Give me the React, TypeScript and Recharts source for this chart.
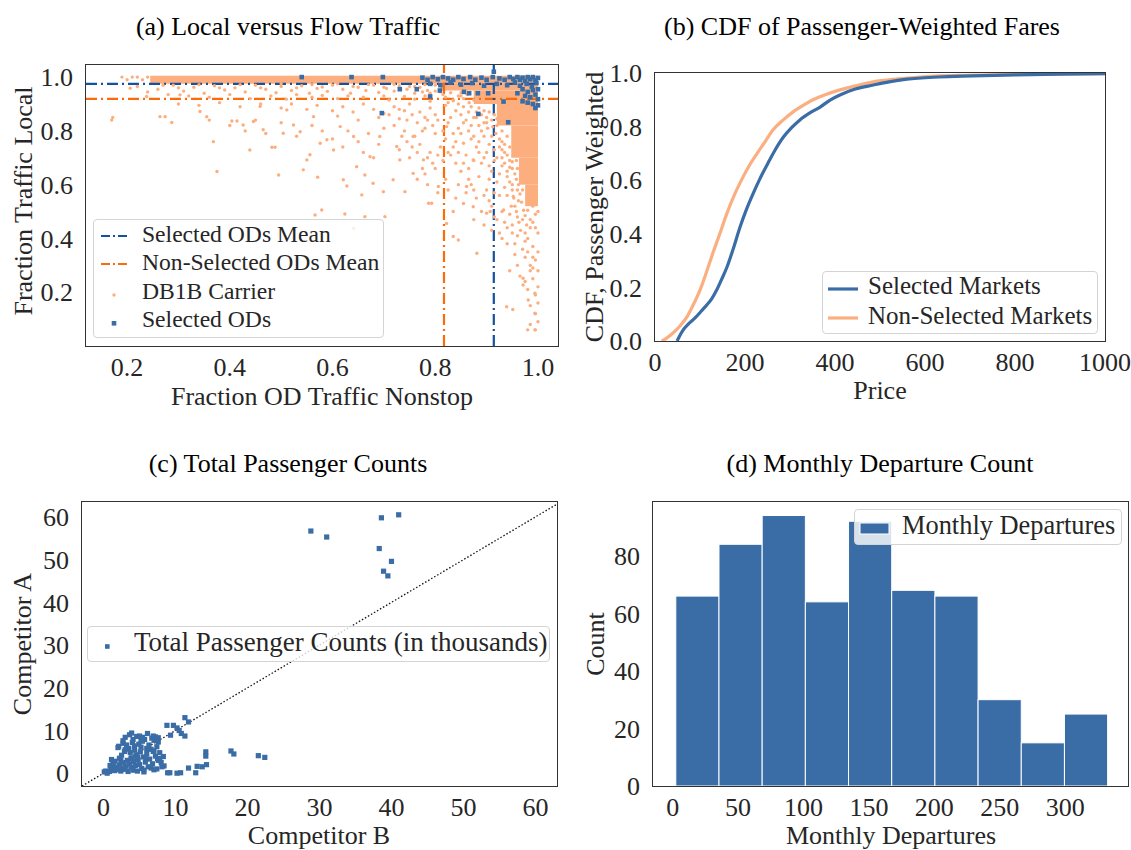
import React from 'react';
import {
  ScatterChart, Scatter, LineChart, Line, BarChart, Bar,
  XAxis, YAxis, ReferenceLine, ReferenceArea,
} from 'recharts';

const FONT = '"Liberation Serif", "Times New Roman", Times, serif';
const INK = '#262626';
const BLUE = '#3a6da6';
const BLUE_DARK = '#12529e';
const ORANGE_LIGHT = '#fdae7e';
const ORANGE_DARK = '#fd6a08';

// ---- (a) local versus flow traffic: [fraction nonstop, fraction local]
const carrierPoints: [number, number][] = [
  [0.19, 1.0], [0.2, 0.99], [0.21, 1.0], [0.22, 1.0], [0.23, 0.99], [0.24, 1.0],
  [0.17, 0.84], [0.172, 0.85], [0.264, 0.853], [0.274, 0.853], [0.287, 0.831], [0.342, 0.872],
  [0.355, 0.853], [0.368, 0.76], [0.375, 0.649], [0.404, 0.837], [0.414, 0.837], [0.426, 0.822],
  [0.439, 0.729], [0.446, 0.835], [0.482, 0.739], [0.488, 0.739], [0.495, 0.636], [0.465, 0.804],
  [0.504, 0.791], [0.524, 0.822], [0.537, 0.797], [0.543, 0.655], [0.55, 0.692], [0.556, 0.711],
  [0.571, 0.628], [0.576, 0.754], [0.589, 0.767], [0.602, 0.729], [0.621, 0.618], [0.628, 0.595],
  [0.647, 0.667], [0.657, 0.562], [0.663, 0.636], [0.673, 0.704], [0.679, 0.605], [0.699, 0.574],
  [0.702, 0.481], [0.579, 0.506], [0.566, 0.487], [0.624, 0.491], [0.663, 0.481], [0.641, 0.438],
  [0.718, 0.618], [0.731, 0.692], [0.741, 0.574], [0.757, 0.642], [0.777, 0.692], [0.787, 0.531],
  [0.793, 0.531], [0.806, 0.593], [0.822, 0.456], [0.835, 0.407], [0.845, 0.394], [0.861, 0.593],
  [0.874, 0.518], [0.881, 0.345], [0.9, 0.494], [0.907, 0.5], [0.933, 0.506], [0.939, 0.146],
  [0.951, 0.136], [0.971, 0.252], [0.971, 0.227], [0.981, 0.171], [0.994, 0.196], [0.994, 0.122],
  [0.994, 0.06], [0.978, 0.45], [0.952, 0.556], [0.874, 0.692], [0.855, 0.754], [0.822, 0.816],
  [0.757, 0.779], [0.725, 0.742], [0.692, 0.779], [0.641, 0.779], [0.615, 0.816], [0.563, 0.853],
  [0.511, 0.878], [0.459, 0.891], [0.303, 0.934], [0.238, 0.928], [0.206, 0.959],
  [0.22, 0.965], [0.26, 0.955], [0.29, 0.97], [0.31, 0.948], [0.33, 0.962], [0.35, 0.94],
  [0.37, 0.968], [0.39, 0.952], [0.41, 0.96], [0.43, 0.945], [0.45, 0.97], [0.47, 0.955],
  [0.49, 0.942], [0.5, 0.965], [0.52, 0.95], [0.54, 0.968], [0.555, 0.94], [0.57, 0.958],
  [0.59, 0.947], [0.6, 0.97], [0.62, 0.955], [0.635, 0.94], [0.65, 0.962], [0.665, 0.95],
  [0.68, 0.97], [0.69, 0.943], [0.705, 0.958], [0.72, 0.948], [0.73, 0.968], [0.745, 0.955],
  [0.76, 0.94], [0.77, 0.962], [0.785, 0.95], [0.8, 0.97], [0.81, 0.945], [0.825, 0.958],
  [0.84, 0.965], [0.85, 0.942],
  [0.27, 0.97], [0.3, 0.96], [0.34, 0.972], [0.38, 0.96], [0.42, 0.972], [0.46, 0.96],
  [0.5, 0.975], [0.53, 0.96], [0.56, 0.972], [0.58, 0.963], [0.61, 0.975], [0.64, 0.965],
  [0.67, 0.972], [0.7, 0.962], [0.72, 0.973], [0.75, 0.965], [0.78, 0.972],
  [0.24, 0.945], [0.28, 0.935], [0.32, 0.93], [0.36, 0.925], [0.4, 0.935], [0.44, 0.92],
  [0.48, 0.93], [0.51, 0.918], [0.53, 0.935], [0.56, 0.925], [0.58, 0.932], [0.61, 0.92],
  [0.63, 0.93], [0.66, 0.925], [0.7, 0.93], [0.71, 0.915], [0.74, 0.928], [0.76, 0.918],
  [0.78, 0.93], [0.79, 0.91], [0.82, 0.925], [0.835, 0.912], [0.85, 0.93],
  [0.3, 0.9], [0.34, 0.895], [0.38, 0.905], [0.42, 0.89], [0.46, 0.9], [0.5, 0.885],
  [0.52, 0.9], [0.55, 0.88], [0.57, 0.895], [0.6, 0.875], [0.62, 0.89], [0.64, 0.87],
  [0.66, 0.9], [0.68, 0.88], [0.7, 0.865], [0.72, 0.89], [0.74, 0.875], [0.75, 0.9],
  [0.77, 0.87], [0.79, 0.885], [0.8, 0.86], [0.82, 0.895], [0.84, 0.875], [0.85, 0.86],
  [0.83, 0.85], [0.78, 0.85], [0.73, 0.845], [0.69, 0.85], [0.65, 0.84], [0.61, 0.855],
  [0.86, 0.84], [0.87, 0.82], [0.88, 0.85], [0.89, 0.8], [0.9, 0.83], [0.91, 0.78],
  [0.92, 0.82], [0.93, 0.76], [0.87, 0.77], [0.88, 0.74], [0.9, 0.72], [0.92, 0.7],
  [0.93, 0.73], [0.85, 0.79], [0.84, 0.76], [0.86, 0.71], [0.89, 0.68], [0.91, 0.65],
  [0.93, 0.67], [0.92, 0.61], [0.94, 0.63], [0.95, 0.6], [0.94, 0.56], [0.955, 0.52],
  [0.96, 0.48], [0.95, 0.45], [0.96, 0.41], [0.955, 0.38], [0.95, 0.66], [0.945, 0.69],
  [0.955, 0.72], [0.96, 0.66], [0.96, 0.58], [0.962, 0.54],
  [0.99, 0.52], [1.0, 0.5], [0.985, 0.47], [0.995, 0.44], [1.0, 0.42], [0.98, 0.4],
  [0.99, 0.37], [1.0, 0.35], [0.995, 0.32], [0.985, 0.3], [1.0, 0.28], [0.99, 0.25],
  [1.0, 0.22], [0.995, 0.19], [1.0, 0.16], [0.995, 0.12], [1.0, 0.09], [0.995, 0.06],
  [0.97, 0.36], [0.975, 0.33],
  [0.72, 0.82], [0.74, 0.8], [0.76, 0.78], [0.78, 0.81], [0.8, 0.79], [0.82, 0.77],
  [0.81, 0.74], [0.79, 0.72], [0.77, 0.75], [0.75, 0.7], [0.73, 0.73], [0.83, 0.71],
  [0.84, 0.68], [0.8, 0.66], [0.78, 0.64], [0.82, 0.62], [0.85, 0.65], [0.87, 0.6],
  [0.86, 0.57], [0.84, 0.55], [0.88, 0.55], [0.9, 0.58], [0.89, 0.5], [0.91, 0.52],
  [0.92, 0.47], [0.93, 0.5], [0.94, 0.44], [0.93, 0.4], [0.91, 0.43],
  [0.56, 0.82], [0.58, 0.8], [0.6, 0.77], [0.63, 0.8], [0.65, 0.76], [0.67, 0.79],
  [0.69, 0.75], [0.7, 0.81], [0.66, 0.72], [0.62, 0.74], [0.68, 0.7],
  [0.4, 0.82], [0.43, 0.8], [0.47, 0.79], [0.5, 0.83], [0.53, 0.78], [0.45, 0.84], [0.36, 0.84],
  // fringe of the saturated corner
  [0.76, 0.965], [0.775, 0.945], [0.79, 0.94], [0.8, 0.948], [0.815, 0.935], [0.83, 0.942],
  [0.845, 0.93], [0.855, 0.92], [0.862, 0.935], [0.866, 0.905], [0.87, 0.89], [0.875, 0.915],
  [0.88, 0.87], [0.885, 0.885], [0.89, 0.86], [0.895, 0.875], [0.9, 0.85], [0.905, 0.87],
  [0.91, 0.84], [0.915, 0.86], [0.902, 0.81], [0.912, 0.815], [0.918, 0.79], [0.925, 0.77],
  [0.93, 0.8], [0.935, 0.75], [0.94, 0.78], [0.945, 0.74], [0.94, 0.71], [0.945, 0.665],
  [0.95, 0.685], [0.955, 0.64], [0.958, 0.62], [0.958, 0.69], [0.962, 0.6], [0.965, 0.565],
  [0.968, 0.535], [0.97, 0.58], [0.972, 0.505], [0.975, 0.485], [0.98, 0.505], [0.985, 0.44],
  [0.99, 0.46], [0.995, 0.49], [0.97, 0.47], [0.975, 0.42], [0.92, 0.845], [0.925, 0.83],
  [0.895, 0.83], [0.885, 0.82], [0.875, 0.85], [0.865, 0.87], [0.855, 0.89], [0.845, 0.9],
  [0.835, 0.915], [0.825, 0.905], [0.93, 0.7], [0.935, 0.68], [0.94, 0.65], [0.945, 0.61],
  [0.95, 0.58], [0.953, 0.55], [0.948, 0.52], [0.958, 0.5], [0.963, 0.46], [0.966, 0.43],
  // spread through the lower right triangle
  [0.71, 0.86], [0.73, 0.88], [0.745, 0.84], [0.755, 0.86], [0.765, 0.83], [0.775, 0.8],
  [0.785, 0.84], [0.795, 0.82], [0.805, 0.84], [0.815, 0.8], [0.825, 0.83], [0.835, 0.79],
  [0.845, 0.81], [0.855, 0.83], [0.865, 0.8], [0.875, 0.78], [0.885, 0.76], [0.895, 0.78],
  [0.905, 0.75], [0.915, 0.73], [0.925, 0.74], [0.935, 0.72], [0.915, 0.69], [0.905, 0.67],
  [0.895, 0.7], [0.885, 0.72], [0.875, 0.69], [0.865, 0.66], [0.855, 0.68], [0.845, 0.72],
  [0.835, 0.74], [0.825, 0.72], [0.815, 0.69], [0.805, 0.71], [0.795, 0.68], [0.785, 0.7],
  [0.775, 0.66], [0.765, 0.72], [0.755, 0.74], [0.745, 0.76], [0.735, 0.78], [0.765, 0.62],
  [0.785, 0.6], [0.805, 0.57], [0.825, 0.58], [0.845, 0.6], [0.865, 0.62], [0.885, 0.63],
  [0.905, 0.62], [0.925, 0.64], [0.935, 0.59], [0.925, 0.56], [0.915, 0.57], [0.905, 0.54],
  [0.895, 0.56], [0.875, 0.58], [0.855, 0.53], [0.835, 0.5], [0.875, 0.47], [0.895, 0.45],
  [0.915, 0.48], [0.935, 0.46], [0.945, 0.49], [0.95, 0.42], [0.94, 0.38], [0.925, 0.42],
  [0.955, 0.34], [0.96, 0.3], [0.945, 0.28], [0.965, 0.26], [0.975, 0.39], [0.98, 0.35],
  [0.985, 0.28], [0.975, 0.24], [0.98, 0.21], [0.985, 0.15], [0.99, 0.29], [0.99, 0.33],
  [0.98, 0.06], [0.985, 0.08],
];

// saturated regions where carrier markers pile on top of each other
const carrierDenseBands = [
  { x1: 0.245, x2: 1.0, y1: 0.975, y2: 1.005 },
  { x1: 0.81, x2: 1.0, y1: 0.95, y2: 0.975 },
  { x1: 0.875, x2: 1.0, y1: 0.9, y2: 0.95 },
  { x1: 0.92, x2: 1.0, y1: 0.82, y2: 0.9 },
  { x1: 0.948, x2: 1.0, y1: 0.7, y2: 0.82 },
  { x1: 0.963, x2: 1.0, y1: 0.6, y2: 0.7 },
  { x1: 0.975, x2: 1.0, y1: 0.52, y2: 0.6 },
];

const selectedOdPoints: [number, number][] = [
  [0.54, 1.0], [0.637, 1.0], [0.698, 1.0], [0.775, 0.998], [0.785, 0.99], [0.795, 1.0],
  [0.805, 0.992], [0.815, 1.0], [0.825, 0.995], [0.835, 0.99], [0.845, 1.0], [0.855, 0.993],
  [0.868, 1.0], [0.878, 0.99], [0.89, 0.998], [0.9, 0.99], [0.912, 1.0], [0.925, 0.995],
  [0.935, 0.99], [0.945, 1.0], [0.952, 0.993], [0.96, 1.0], [0.965, 0.99], [0.97, 0.998],
  [0.975, 0.985], [0.98, 1.0], [0.985, 0.992], [0.99, 1.0], [0.995, 0.988], [1.0, 0.997],
  [0.914, 1.02],
  [0.79, 0.975], [0.81, 0.97], [0.83, 0.98], [0.85, 0.972], [0.872, 0.978], [0.895, 0.968],
  [0.92, 0.975], [0.94, 0.97], [0.955, 0.98], [0.965, 0.968], [0.978, 0.975], [0.988, 0.965],
  [0.997, 0.978],
  [0.731, 0.955], [0.764, 0.955], [0.79, 0.928], [0.809, 0.95], [0.856, 0.945], [0.866, 0.94],
  [0.883, 0.94], [0.903, 0.94], [0.884, 0.863], [0.696, 0.866], [0.933, 0.909], [0.942, 0.832],
  [0.97, 0.955], [0.98, 0.945], [0.99, 0.952], [1.0, 0.955], [0.975, 0.93], [0.985, 0.925],
  [0.995, 0.935], [1.0, 0.918], [0.98, 0.905], [0.99, 0.9], [1.0, 0.895], [0.97, 0.91],
  [0.96, 0.94], [0.995, 0.885],
];

const selectedMean = { nonstop: 0.914, local: 0.975 };
const nonSelectedMean = { nonstop: 0.817, local: 0.919 };
const fractionTicks = [0.2, 0.4, 0.6, 0.8, 1.0];

// ---- (b) passenger-weighted fare CDFs: [price, cdf]
const selectedFareCdf: [number, number][] = [
  [49, 0], [55, 0.02], [62, 0.04], [75, 0.065], [89, 0.086], [102, 0.11], [115, 0.134],
  [127, 0.16], [137, 0.19], [148, 0.23], [160, 0.276], [175, 0.35], [189, 0.425], [203, 0.49],
  [218, 0.55], [233, 0.605], [249, 0.657], [266, 0.71], [285, 0.76], [303, 0.795], [322, 0.825],
  [345, 0.852], [367, 0.873], [390, 0.9], [411, 0.918], [445, 0.94], [485, 0.955], [520, 0.967],
  [560, 0.977], [630, 0.985], [707, 0.989], [800, 0.993], [900, 0.996], [1000, 0.998],
];
const nonSelectedFareCdf: [number, number][] = [
  [15, 0], [25, 0.01], [40, 0.03], [55, 0.055], [71, 0.09], [85, 0.135], [100, 0.19],
  [115, 0.26], [129, 0.33], [145, 0.405], [160, 0.477], [175, 0.54], [189, 0.59], [208, 0.65],
  [227, 0.7], [245, 0.745], [262, 0.787], [285, 0.825], [307, 0.855], [330, 0.88], [351, 0.9],
  [380, 0.92], [411, 0.937], [445, 0.952], [485, 0.967], [540, 0.978], [596, 0.986],
  [707, 0.992], [850, 0.996], [1000, 0.998],
];
const priceTicks = [0, 200, 400, 600, 800, 1000];
const cdfTicks = [0, 0.2, 0.4, 0.6, 0.8, 1.0];

// ---- (c) total passenger counts in thousands: [competitor B, competitor A]
const passengerCounts: [number, number][] = [
  [28.8, 56.7], [31.0, 55.3], [38.6, 59.8], [41.0, 60.5], [38.3, 52.6], [40.0, 49.6],
  [38.9, 47.3], [39.5, 46.2],
  [17.7, 5.2], [18.1, 4.5], [21.5, 4.1], [22.4, 3.7], [14.2, 5.0], [14.2, 4.0], [14.3, 2.0],
  [13.7, 1.5], [13.0, 1.6], [12.8, 0.1], [11.8, 1.2], [10.7, 0.1], [10.2, 0.0], [9.2, 0.1],
  [8.9, 0.1],
  [11.3, 13.0], [11.8, 12.0], [8.8, 11.2], [9.7, 11.2], [10.2, 10.6], [10.5, 10.0], [10.8, 9.3],
  [11.3, 8.7], [9.3, 8.9], [3.9, 9.4], [5.0, 8.7], [5.4, 8.4], [4.1, 7.9], [5.2, 7.6],
  [6.9, 8.7], [7.2, 8.5], [7.6, 8.3], [7.0, 7.7], [7.6, 7.3], [2.7, 7.0], [2.1, 6.3],
  [3.0, 5.5], [4.3, 6.4], [6.0, 5.8], [7.0, 5.2], [7.8, 3.4], [7.5, 3.4], [8.4, 1.7],
  [8.1, 1.5], [6.6, 1.2], [7.4, 1.0], [5.6, 0.7], [4.7, 3.7], [3.8, 3.4], [2.4, 3.0],
  [1.4, 1.5], [1.0, 1.0], [0.1, 0.3], [0.5, 0.0],
  [0.3, 0.5], [0.8, 0.4], [1.2, 1.0], [1.5, 0.6], [1.8, 1.4], [2.0, 0.8], [2.2, 1.9],
  [2.4, 0.5], [2.6, 1.2], [2.8, 2.4], [3.0, 0.9], [3.1, 1.7], [3.3, 3.0], [3.4, 0.4],
  [3.6, 2.2], [3.8, 1.3], [3.9, 3.6], [4.1, 0.7], [4.2, 2.7], [4.4, 1.8], [4.5, 4.3],
  [4.7, 0.5], [4.8, 3.1], [5.0, 2.0], [5.1, 5.0], [5.3, 1.1], [5.5, 3.8], [5.6, 0.3],
  [5.8, 2.6], [6.0, 4.6], [6.2, 1.5], [6.4, 3.3], [6.6, 5.6], [6.8, 2.2], [7.0, 0.8],
  [7.2, 4.0], [7.4, 6.2], [7.6, 3.0], [2.2, 3.5], [2.5, 4.2], [1.6, 2.8], [2.9, 5.1],
  [3.5, 5.8], [3.2, 6.6], [4.0, 7.2], [4.3, 5.4], [4.9, 6.8], [5.4, 7.5], [2.0, 6.0],
  [1.3, 2.2], [0.9, 1.8], [3.7, 4.8], [4.6, 3.9], [5.2, 6.1], [5.9, 3.4], [6.3, 6.6],
  [6.9, 5.1], [7.8, 4.8], [8.0, 2.5], [8.3, 3.9], [1.1, 3.2], [2.7, 7.6], [3.0, 8.4],
  [3.6, 9.0], [4.6, 8.6], [5.7, 7.9], [6.1, 9.3], [6.7, 8.2],
];
const competitorTicks = [0, 10, 20, 30, 40, 50, 60];

// ---- (d) monthly departures histogram
const departureBinStarts = [2.5, 35.5, 68.5, 101.5, 134.5, 167.5, 200.5, 233.5, 266.5, 299.5];
const departureBinWidth = 33;
const departureCounts = [66, 84, 94, 64, 92, 68, 66, 30, 15, 25];
const departureTicks = [0, 50, 100, 150, 200, 250, 300];
const countTicks = [0, 20, 40, 60, 80];

// ---- layout: plot boxes in page pixels
type Box = { l: number; t: number; r: number; b: number };
const boxA: Box = { l: 86, t: 65, r: 558, b: 346 };
const boxB: Box = { l: 655, t: 73, r: 1105, b: 341 };
const boxC: Box = { l: 82, t: 502, r: 557, b: 786 };
const boxD: Box = { l: 653, t: 502, r: 1128, b: 786 };
const AXIS_W = 80;
const AXIS_H = 70;
const PAD_T = 20;
const PAD_R = 40;

const domainA = { x: [0.12, 1.039], y: [0, 1.045] };
const domainD = { x: [-15, 348], y: [0, 98.7] };

function frame(box: Box) {
  return {
    style: { position: 'absolute', left: box.l - AXIS_W, top: box.t - PAD_T } as React.CSSProperties,
    width: box.r - box.l + AXIS_W + PAD_R,
    height: box.b - box.t + AXIS_H + PAD_T,
    margin: { top: PAD_T, right: PAD_R, left: 0, bottom: 0 },
  };
}

const tickStyle = { fill: INK, fontSize: 26, fontFamily: FONT };
const xAxisCommon = {
  type: 'number' as const, height: AXIS_H, axisLine: false, tickLine: false,
  tickSize: 0, tickMargin: 12, tick: tickStyle, interval: 0 as const, allowDataOverflow: true,
};
const yAxisCommon = {
  type: 'number' as const, width: AXIS_W, axisLine: false, tickLine: false,
  tickSize: 0, tickMargin: 13, tick: tickStyle, interval: 0 as const, allowDataOverflow: true,
};

const toXY = (pts: [number, number][]) => pts.map(([x, y]) => ({ x, y }));
const fix1 = (v: number) => v.toFixed(1);

function Border({ box }: { box: Box }) {
  return (
    <div style={{
      position: 'absolute', left: box.l - 1, top: box.t - 1,
      width: box.r - box.l + 2, height: box.b - box.t + 2,
      border: '1.6px solid #333', boxSizing: 'border-box',
    }} />
  );
}

function LegendBox({ left, top, width, height, children }: any) {
  return (
    <div style={{
      position: 'absolute', left, top, width, height, boxSizing: 'border-box',
      background: 'rgba(255,255,255,0.8)', border: '1px solid #d4d4d4', borderRadius: 4,
    }}>
      <svg width={width} height={height} style={{ position: 'absolute', left: -1, top: -1 }}
        fontFamily={FONT}>
        {children}
      </svg>
    </div>
  );
}

const DASH_DOT = '11 4 2 4';

function LocalFlowChart() {
  const f = frame(boxA);
  return (
    <div style={f.style}>
      <ScatterChart width={f.width} height={f.height} margin={f.margin}>
        <XAxis {...xAxisCommon} dataKey="x" domain={domainA.x} ticks={fractionTicks} tickFormatter={fix1} />
        <YAxis {...yAxisCommon} dataKey="y" domain={domainA.y} ticks={fractionTicks} tickFormatter={fix1} />
        {carrierDenseBands.map((b, i) => (
          <ReferenceArea key={i} x1={b.x1} x2={b.x2} y1={b.y1} y2={b.y2}
            fill={ORANGE_LIGHT} fillOpacity={1} stroke="none" ifOverflow="hidden" />
        ))}
        <Scatter data={toXY(carrierPoints)} isAnimationActive={false}
          shape={(p: any) => <circle cx={p.cx} cy={p.cy} r={1.7} fill={ORANGE_LIGHT} />} />
        <ReferenceLine y={selectedMean.local} stroke={BLUE_DARK} strokeWidth={2.2} strokeDasharray={DASH_DOT} />
        <ReferenceLine y={nonSelectedMean.local} stroke={ORANGE_DARK} strokeWidth={2.2} strokeDasharray={DASH_DOT} />
        <ReferenceLine x={nonSelectedMean.nonstop} stroke={ORANGE_DARK} strokeWidth={2.2} strokeDasharray={DASH_DOT} />
        <ReferenceLine x={selectedMean.nonstop} stroke={BLUE_DARK} strokeWidth={2.2} strokeDasharray={DASH_DOT} />
        <Scatter data={toXY(selectedOdPoints)} isAnimationActive={false}
          shape={(p: any) => <rect x={p.cx - 2.3} y={p.cy - 2.3} width={4.6} height={4.6} fill={BLUE} />} />
      </ScatterChart>
    </div>
  );
}

function FareCdfChart() {
  const f = frame(boxB);
  const toRows = (pts: [number, number][]) => pts.map(([price, cdf]) => ({ price, cdf }));
  return (
    <div style={f.style}>
      <LineChart width={f.width} height={f.height} margin={f.margin}>
        <XAxis {...xAxisCommon} dataKey="price" domain={[0, 1000]} ticks={priceTicks} />
        <YAxis {...yAxisCommon} dataKey="cdf" domain={[0, 1]} ticks={cdfTicks} tickFormatter={fix1} />
        <Line data={toRows(nonSelectedFareCdf)} dataKey="cdf" type="monotone" dot={false}
          stroke="#fbaf80" strokeWidth={3.2} isAnimationActive={false} />
        <Line data={toRows(selectedFareCdf)} dataKey="cdf" type="monotone" dot={false}
          stroke={BLUE} strokeWidth={3.2} isAnimationActive={false} />
      </LineChart>
    </div>
  );
}

function PassengerChart() {
  const f = frame(boxC);
  return (
    <div style={f.style}>
      <ScatterChart width={f.width} height={f.height} margin={f.margin}>
        <XAxis {...xAxisCommon} dataKey="x" domain={[-3, 63]} ticks={competitorTicks} />
        <YAxis {...yAxisCommon} dataKey="y" domain={[-3, 63.5]} ticks={competitorTicks} />
        <ReferenceLine segment={[{ x: -3, y: -3 }, { x: 63, y: 63 }]} stroke="#111"
          strokeWidth={1.3} strokeDasharray="1.5 2" ifOverflow="visible" />
        <Scatter data={toXY(passengerCounts)} isAnimationActive={false}
          shape={(p: any) => <rect x={p.cx - 2.6} y={p.cy - 2.6} width={5.2} height={5.2} fill={BLUE} />} />
      </ScatterChart>
    </div>
  );
}

function DeparturesChart() {
  const f = frame(boxD);
  const bins = departureBinStarts.map((s, i) => ({ mid: s + departureBinWidth / 2, count: departureCounts[i] }));
  const plotW = boxD.r - boxD.l;
  const barPx = (departureBinWidth * plotW) / (domainD.x[1] - domainD.x[0]);
  return (
    <div style={f.style}>
      <BarChart width={f.width} height={f.height} margin={f.margin} data={bins} barCategoryGap={0} barGap={0}>
        <XAxis {...xAxisCommon} dataKey="mid" domain={domainD.x} ticks={departureTicks} />
        <YAxis {...yAxisCommon} domain={domainD.y} ticks={countTicks} />
        <Bar dataKey="count" isAnimationActive={false}
          shape={(p: any) => (
            <rect x={p.x + p.width / 2 - barPx / 2} y={p.y} width={barPx} height={p.height}
              fill={BLUE} stroke="#fff" strokeWidth={1} />
          )} />
      </BarChart>
    </div>
  );
}

export default function App() {
  return (
    <div style={{ position: 'absolute', left: 0, top: 0, width: 1131, height: 850, background: '#fff', overflow: 'hidden', fontFamily: FONT }}>
      <LocalFlowChart />
      <FareCdfChart />
      <PassengerChart />
      <DeparturesChart />
      <Border box={boxA} />
      <Border box={boxB} />
      <Border box={boxC} />
      <Border box={boxD} />

      <svg width={1131} height={850} style={{ position: 'absolute', left: 0, top: 0, pointerEvents: 'none' }}
        fontFamily={FONT} fontSize={26}>
        <text x={288} y={35} textAnchor="middle" fill="#000">(a) Local versus Flow Traffic</text>
        <text x={862} y={35} textAnchor="middle" fill="#000">(b) CDF of Passenger-Weighted Fares</text>
        <text x={288} y={472} textAnchor="middle" fill="#000">(c) Total Passenger Counts</text>
        <text x={880} y={472} textAnchor="middle" fill="#000">(d) Monthly Departure Count</text>

        <text x={322} y={405} textAnchor="middle" fill={INK}>Fraction OD Traffic Nonstop</text>
        <text x={880} y={399} textAnchor="middle" fill={INK}>Price</text>
        <text x={319} y={844} textAnchor="middle" fill={INK}>Competitor B</text>
        <text x={891} y={844} textAnchor="middle" fill={INK}>Monthly Departures</text>

        <text transform="translate(31.5,201) rotate(-90)" textAnchor="middle" fill={INK}>Fraction Traffic Local</text>
        <text transform="translate(603,207) rotate(-90)" textAnchor="middle" fill={INK}>CDF, Passenger Weighted</text>
        <text transform="translate(31,644) rotate(-90)" textAnchor="middle" fill={INK}>Competitor A</text>
        <text transform="translate(604,644) rotate(-90)" textAnchor="middle" fill={INK}>Count</text>
      </svg>

      <LegendBox left={93} top={219} width={291} height={119}>
        <line x1={8} x2={37} y1={17} y2={17} stroke={BLUE_DARK} strokeWidth={2.2} strokeDasharray="9 3 2 3" />
        <line x1={8} x2={37} y1={45} y2={45} stroke={ORANGE_DARK} strokeWidth={2.2} strokeDasharray="9 3 2 3" />
        <circle cx={21} cy={76} r={1.7} fill={ORANGE_LIGHT} />
        <rect x={18.7} y={102} width={4.6} height={4.6} fill={BLUE} />
        <g fontSize={23.6} fill={INK}>
          <text x={49} y={23}>Selected ODs Mean</text>
          <text x={49} y={51}>Non-Selected ODs Mean</text>
          <text x={49} y={80}>DB1B Carrier</text>
          <text x={49} y={108}>Selected ODs</text>
        </g>
      </LegendBox>

      <LegendBox left={822} top={271} width={276} height={63}>
        <line x1={6} x2={36} y1={18} y2={18} stroke={BLUE} strokeWidth={3.2} />
        <line x1={6} x2={36} y1={47} y2={47} stroke="#fbaf80" strokeWidth={3.2} />
        <g fontSize={25} fill={INK}>
          <text x={46} y={23}>Selected Markets</text>
          <text x={46} y={53}>Non-Selected Markets</text>
        </g>
      </LegendBox>

      <LegendBox left={87} top={626} width={463} height={36}>
        <rect x={18} y={18.2} width={4.6} height={4.6} fill={BLUE} />
        <text x={47} y={25} fontSize={27} fill={INK}>Total Passenger Counts (in thousands)</text>
      </LegendBox>

      <LegendBox left={854} top={509} width={268} height={36}>
        <rect x={6} y={14} width={29} height={11} fill={BLUE} stroke="#fff" strokeWidth={1} />
        <text x={48} y={25} fontSize={26.4} fill={INK}>Monthly Departures</text>
      </LegendBox>
    </div>
  );
}
